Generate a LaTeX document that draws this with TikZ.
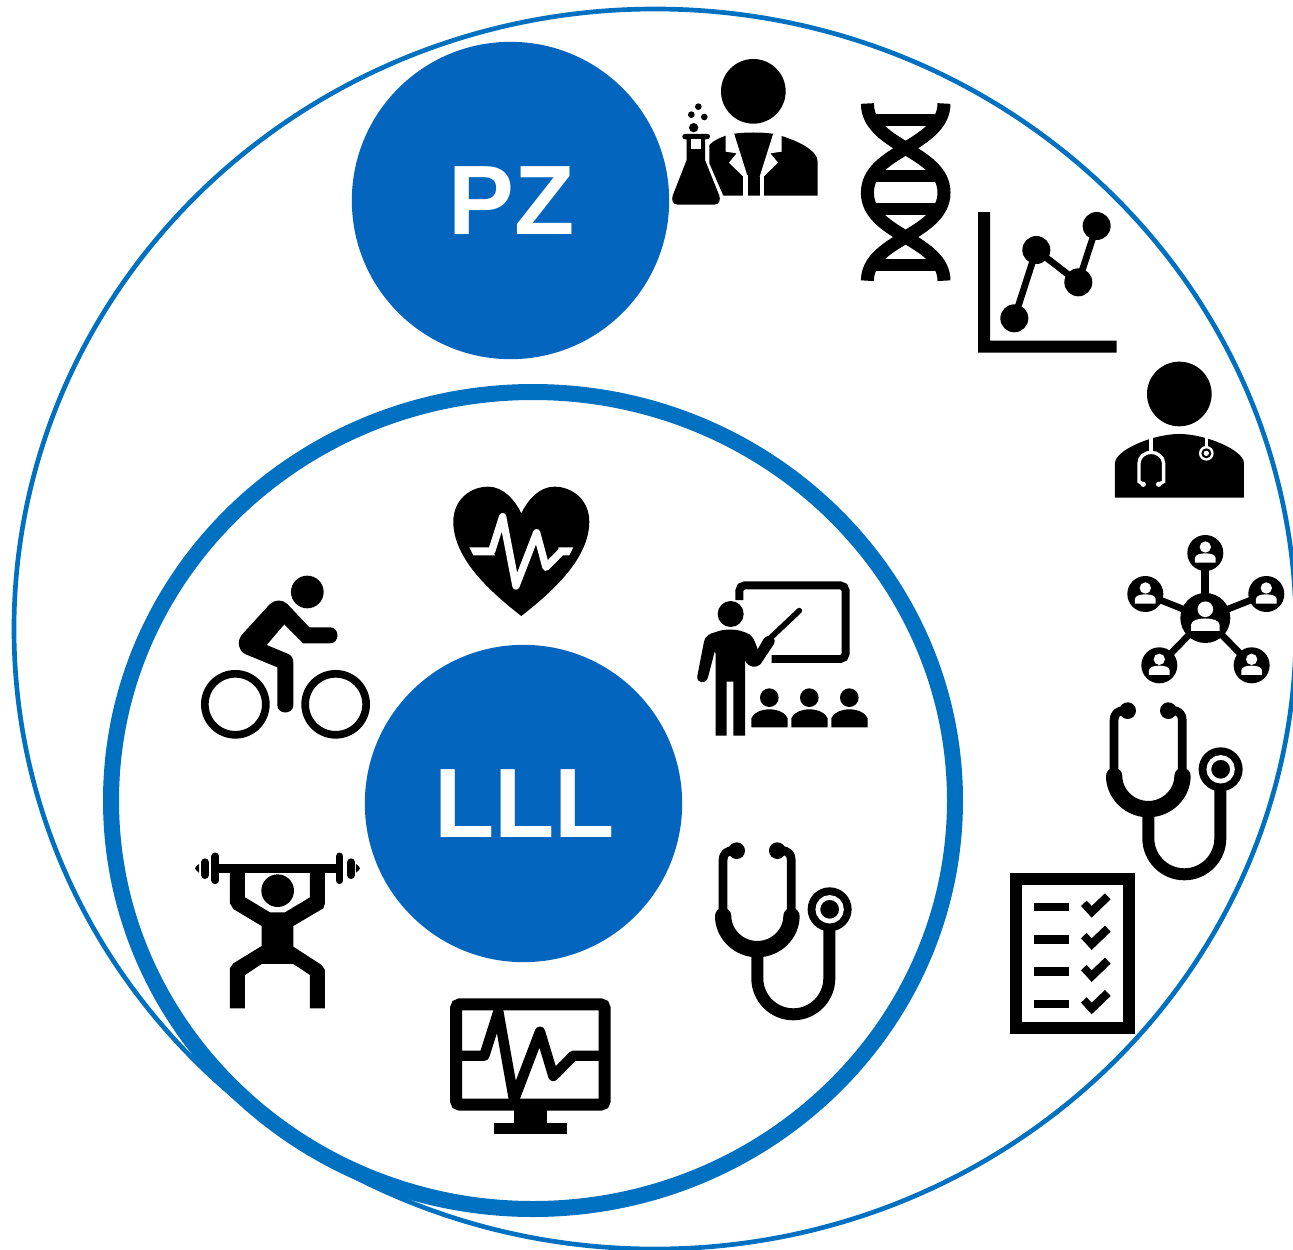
\documentclass[tikz,border=0pt]{standalone}
\usepackage{fontspec}
\setmainfont{Liberation Sans}
\definecolor{diskblue}{HTML}{0365BD}
\definecolor{ringblue}{HTML}{0070C0}
\tikzset{
  zm/.style 2 args={shift={(#1,#2)},scale=0.3333},
  ink/.style={fill=black,draw=none},
  wht/.style={fill=white,draw=none},
  disk/.style={circle,fill=diskblue,draw=none,minimum size=238pt,inner sep=0pt,text=white,font=\fontsize{74}{74}\selectfont\bfseries},
  tube/.style={draw=black,line cap=butt,line join=round},
}
\newcommand{\stethicon}[2]{%
  \begin{scope}[zm={#1}{#2}]
    \draw[tube,line width=6.5pt] (378,541) .. controls (352,541) and (342,552) .. (342,572) -- (342,735);
    \draw[tube,line width=6.5pt] (512,541) .. controls (538,541) and (547,552) .. (547,572) -- (547,735);
    \fill[ink] (383,542) circle[radius=25] (505,542) circle[radius=25];
    \draw[tube,line width=12.25pt,line cap=round] (342.5,738) .. controls (342.5,791.6) and (388.4,837.5) .. (445,837.5) .. controls (501.6,837.5) and (547.5,791.6) .. (547.5,738);
    \draw[tube,line width=9pt] (445,850) -- (445,925) .. controls (445,984.6) and (493.4,1033) .. (553,1033) .. controls (612.6,1033) and (661,984.6) .. (661,925) -- (661,770);
    \fill[ink] (662,718) circle[radius=66];
    \draw[white,line width=3.5pt] (662,718) circle[radius=35.5];
  \end{scope}}
\newcommand{\netperson}[3]{%
  \begin{scope}[shift={(#1,#2)},scale=#3]
    \fill[ink] (0,0) circle[radius=54];
    \fill[wht] (0,-18) circle[radius=17];
    \fill[wht] (-31,29) -- (-31,15) .. controls (-31,5) and (-15,1) .. (0,1) .. controls (15,1) and (31,5) .. (31,15) -- (31,29) -- cycle;
  \end{scope}}
\begin{document}
\begin{tikzpicture}[x=0.75pt,y=-0.75pt]
\useasboundingbox (0,0) rectangle (1293,1250);
\clip (0,0) rectangle (1293,1250);
\fill[white] (0,0) rectangle (1293,1250);

% rings
\draw[ringblue,line width=3.5pt] (655,629) ellipse[x radius=641,y radius=620];
\draw[ringblue,line width=12pt] (533,800.5) ellipse[x radius=422,y radius=408.5];

% disks
\node[disk] (pz) at (510.5,200.5) {\kern1.5ptPZ};
\node[disk] (lll) at (523.5,803.5) {\kern1.5ptLLL};

% scientist
\begin{scope}[zm={660}{50}]
  \fill[ink] (280,124) circle[radius=97];
  \fill[ink] (148,285) .. controls (160,272) and (178,264) .. (195,258) .. controls (225,244) and (335,244) .. (365,258) .. controls (410,272) and (473,300) .. (473,335) -- (473,437) -- (190,437) -- (148,340) -- cycle;
  \fill[wht] (197,255) -- (222,250) -- (263,380) -- (250,380) -- (207,338) -- (230,310) -- (197,305) -- cycle;
  \fill[wht] (365,255) -- (340,250) -- (299,380) -- (311,380) -- (354,338) -- (331,310) -- (365,305) -- cycle;
  \fill[wht] (250,375) rectangle (263,437);
  \fill[wht] (299,375) rectangle (311,437);
  \fill[ink] (67,260) .. controls (67,254) and (70,252) .. (75,252) -- (142,252) .. controls (147,252) and (150,254) .. (150,260) .. controls (150,266) and (147,268) .. (135,268) -- (135,330) -- (178,437) .. controls (182,450) and (178,464) .. (162,464) -- (54,464) .. controls (38,464) and (34,450) .. (38,437) -- (80,330) -- (80,268) .. controls (70,268) and (67,266) .. (67,260) -- cycle;
  \fill[wht] (92,268) rectangle (124,298);
  \fill[ink] (101,233) circle[radius=14] (94,194) circle[radius=10] (133,201) circle[radius=10] (115,170) circle[radius=10];
\end{scope}

% DNA
\draw[black,line width=9.75pt] (867.4,103.5) .. controls (867.4,124) and (885,136) .. (905.7,148.3) .. controls (926,160.5) and (944,172) .. (944,192.7) .. controls (944,213) and (926,225) .. (905.7,237.1) .. controls (885,249) and (867.4,261) .. (867.4,280.7);
\draw[black,line width=9.75pt] (944,103.5) .. controls (944,124) and (926,136) .. (905.7,148.3) .. controls (885,160.5) and (867.4,172) .. (867.4,192.7) .. controls (867.4,213) and (885,225) .. (905.7,237.1) .. controls (926,249) and (944,261) .. (944,280.7);
\foreach \ry in {120,176.3,208.5,264.8}{\draw[black,line width=9pt] (873.7,\ry) -- (937.7,\ry);}

% chart and doctor
\begin{scope}[zm={970}{200}]
  \fill[ink] (24,36) -- (60,36) -- (60,422) -- (440,422) -- (440,458) -- (24,458) -- cycle;
  \draw[black,line width=5pt,line join=round] (133,355) -- (199,150) -- (325,247) -- (380,78);
  \fill[ink] (133,355) circle[radius=42] (199,150) circle[radius=42] (325,247) circle[radius=42] (380,78) circle[radius=42];
  % doctor
  \fill[ink] (628,582) circle[radius=97];
  \fill[ink] (435,893) -- (435,790) .. controls (435,750) and (550,702) .. (628,702) .. controls (706,702) and (822,750) .. (822,790) -- (822,893) -- cycle;
  \draw[white,line width=2.5pt] (543,712) -- (543,757);
  \draw[white,line width=2.5pt] (520,853) -- (507,845) -- (507,790) .. controls (507,770) and (525,757) .. (543,757) .. controls (561,757) and (581,770) .. (581,790) -- (581,845) -- (566,853);
  \fill[wht] (520,853) circle[radius=8] (566,853) circle[radius=8];
  \draw[white,line width=2.5pt] (709,712) -- (709,745);
  \fill[wht] (709,760) circle[radius=22];
  \fill[ink] (709,760) circle[radius=15];
  \fill[wht] (709,760) circle[radius=8];
\end{scope}

% network
\begin{scope}[zm={1000}{530}]
  \draw[black,line width=6.25pt] (616,264) -- (616,69);
  \draw[black,line width=5pt] (616,264) -- (436,192) (616,264) -- (799,192) (616,264) -- (478,406) (616,264) -- (755,406);
  \fill[ink] (616,264) circle[radius=75];
  \netperson{616}{69}{1}
  \netperson{436}{192}{1}
  \netperson{799}{192}{1}
  \netperson{478}{406}{1}
  \netperson{755}{406}{1}
  \begin{scope}[shift={(616,264)},scale=1.38]
    \fill[wht] (0,-19) circle[radius=17];
    \fill[wht] (-31,28) -- (-31,15) .. controls (-31,5) and (-15,1) .. (0,1) .. controls (15,1) and (31,5) .. (31,15) -- (31,28) -- cycle;
  \end{scope}
  % checklist
  \draw[black,line width=9pt] (48,1046) rectangle (387,1494);
  \foreach \ly in {1131,1228,1324,1421}{
    \fill[ink] (102,\ly-12) rectangle (206,\ly+13);
    \fill[ink] (243,\ly-3) -- (260,\ly-19) -- (275,\ly-3) -- (315,\ly-41) -- (332,\ly-23) -- (275,\ly+32) -- cycle;
  }
\end{scope}

% stethoscopes
\stethicon{1000}{530}
\stethicon{609}{670}

% heart and cyclist
\begin{scope}[zm={190}{480}]
  \fill[ink] (994,408) .. controls (900,335) and (790,235) .. (790,125) .. controls (790,60) and (840,20) .. (895,20) .. controls (940,20) and (975,60) .. (994,100) .. controls (1013,60) and (1048,20) .. (1093,20) .. controls (1148,20) and (1198,60) .. (1198,125) .. controls (1198,235) and (1088,335) .. (994,408) -- cycle;
  \draw[white,line width=5.5pt,line join=round,line cap=round] (905,214) -- (938,110) -- (978,318) -- (1040,158) -- (1068,262) -- (1115,214);
  \fill[wht] (838,202) -- (905,202) -- (915,226) -- (850,226) -- cycle;
  \fill[wht] (1105,202) -- (1150,202) -- (1138,226) -- (1105,226) -- cycle;
  % cyclist
  \draw[black,line width=5.75pt] (136,673) circle[radius=91.5];
  \draw[black,line width=5.75pt] (437,673) circle[radius=91.5];
  \fill[ink] (352,336) circle[radius=49];
  \fill[ink] (240,372) .. controls (255,358) and (278,358) .. (292,372) -- (358,442) -- (420,442) .. controls (450,442) and (450,490) .. (420,490) -- (340,490) -- (283,433) -- (230,495) -- (295,522) .. controls (305,527) and (310,535) .. (310,548) -- (310,675) .. controls (310,705) and (262,705) .. (262,675) -- (262,562) -- (165,522) .. controls (145,512) and (140,485) .. (155,465) -- cycle;
\end{scope}

% teacher
\begin{scope}[zm={690}{570}]
  \draw[black,line width=5.9pt,rounded corners=4pt] (148,90) -- (148,46) -- (467,46) -- (467,267) -- (245,267);
  \fill[ink] (122,132) circle[radius=39];
  \fill[ink] (22,318) -- (42,215) .. controls (45,198) and (60,190) .. (75,187) .. controls (100,176) and (140,176) .. (165,187) .. controls (185,192) and (192,205) .. (203,238) -- (222,205) .. controls (232,190) and (262,198) .. (252,222) -- (212,282) .. controls (200,295) and (175,295) .. (165,270) -- (165,497) -- (130,497) -- (130,335) -- (110,335) -- (110,497) -- (77,497) -- (77,250) -- (74,245) -- (54,322) .. controls (48,345) and (18,340) .. (22,318) -- cycle;
  \draw[black,line width=4.25pt,line cap=round] (240,205) -- (328,122);
  \foreach \ax in {0,120,240}{
    \begin{scope}[shift={(\ax,0)}]
      \fill[ink] (238,383) circle[radius=28];
      \fill[ink] (184,472) -- (184,445) .. controls (190,428) and (215,418) .. (238,418) .. controls (262,418) and (287,428) .. (293,445) -- (293,472) -- cycle;
    \end{scope}
  }
\end{scope}

% weightlifter
\begin{scope}[zm={185}{840}]
  \fill[ink] (90,72) rectangle (465,98);
  \draw[black,line width=5.75pt,line cap=round] (91,49) -- (91,121) (464,49) -- (464,121);
  \draw[black,line width=6pt,line cap=round] (60,67) -- (60,105) (499,67) -- (499,105);
  \fill[ink] (42,72) .. controls (36,76) and (32,80) .. (30,85) .. controls (32,90) and (36,94) .. (42,98) -- cycle;
  \fill[ink] (513,72) .. controls (519,76) and (523,80) .. (525,85) .. controls (523,90) and (519,94) .. (513,98) -- cycle;
  \fill[ink] (135,90) -- (180,90) -- (180,172) -- (255,217) -- (300,217) -- (375,172) -- (375,90) -- (420,90) -- (420,190) -- (415,205) -- (325,258) -- (325,320) -- (410,375) -- (420,390) -- (420,505) -- (375,505) -- (375,405) -- (325,372) -- (230,372) -- (180,405) -- (180,505) -- (135,505) -- (135,385) -- (145,370) -- (230,318) -- (230,258) -- (145,207) -- (135,190) -- cycle;
  \fill[ink] (278,152) circle[radius=49];
\end{scope}

% monitor
\begin{scope}[zm={440}{990}]
  \draw[black,line width=9pt,rounded corners=3pt] (48,43) rectangle (494,344);
  \fill[ink] (222,350) rectangle (320,400);
  \fill[ink] (162,398) rectangle (381,433);
  \draw[black,line width=7.75pt,line join=round] (60,197) -- (133,197) -- (175,65) -- (222,330) -- (300,125) -- (340,258) -- (400,197) -- (480,197);
\end{scope}
\end{tikzpicture}
\end{document}
